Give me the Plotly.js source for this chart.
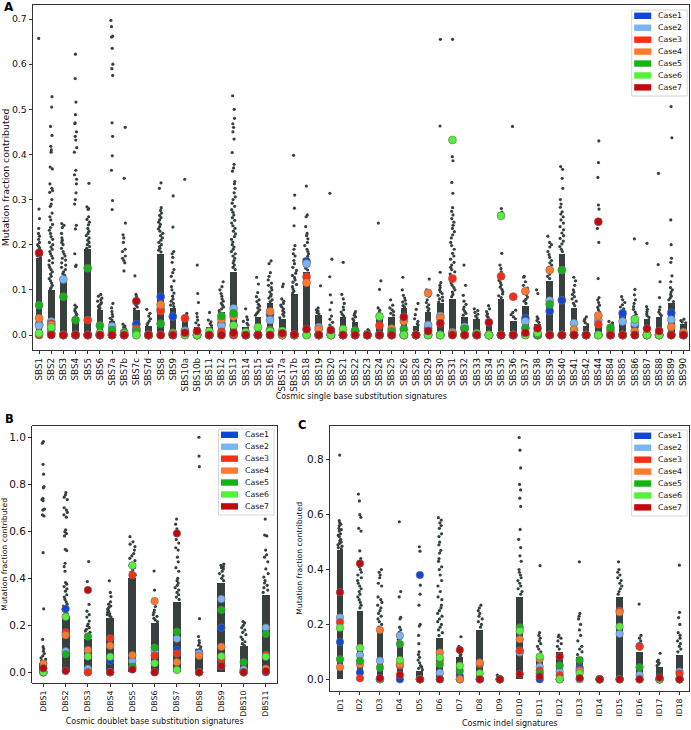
<!DOCTYPE html>
<html><head><meta charset="utf-8">
<script src="https://cdn.plot.ly/plotly-3.0.1.min.js"></script>
<style>html,body{margin:0;padding:0;background:#fff}#chart{width:691px;height:730px}</style>
</head><body><div id="chart"></div>
<script>
const caseNames = ['Case1','Case2','Case3','Case4','Case5','Case6','Case7'];
const caseColors = ['#0f46d8','#79b4f6','#ff2b12','#ff7a2c','#12b312','#55f03a','#c1080c'];

// ---------- Panel A: single base substitution signatures ----------
const sbsCategories = ['SBS1','SBS2','SBS3','SBS4','SBS5','SBS6','SBS7a','SBS7b','SBS7c','SBS7d','SBS8','SBS9','SBS10a','SBS10b','SBS11','SBS12','SBS13','SBS14','SBS15','SBS16','SBS17a','SBS17b','SBS18','SBS19','SBS20','SBS21','SBS22','SBS23','SBS24','SBS25','SBS26','SBS28','SBS29','SBS30','SBS31','SBS32','SBS33','SBS34','SBS35','SBS36','SBS37','SBS38','SBS39','SBS40','SBS41','SBS42','SBS44','SBS84','SBS85','SBS86','SBS87','SBS88','SBS89','SBS90'];
// dense (solid) part of each sample distribution
const sbsCore = [0.17,0.1,0.12,0.04,0.19,0.055,0.03,0.012,0.055,0.02,0.18,0.06,0.033,0.018,0.018,0.05,0.14,0.018,0.04,0.07,0.035,0.09,0.14,0.045,0.018,0.04,0.028,0.005,0.04,0.04,0.06,0.02,0.05,0.07,0.08,0.04,0.035,0.035,0.08,0.032,0.065,0.025,0.12,0.18,0.06,0.02,0.045,0.02,0.05,0.035,0.035,0.04,0.07,0.025];
// individual sample values above the dense part
const sbsSpread = [
 [0.657,0.279,0.258,0.236,0.225,0.219,0.212,0.205,0.2,0.197,0.193,0.19,0.187,0.184,0.181,0.178,0.175,0.172],
 [0.528,0.505,0.462,0.442,0.418,0.41,0.405,0.372,0.368,0.335,0.325,0.32,0.316,0.3,0.29,0.285,0.27,0.262,0.255,0.245,0.238,0.232,0.225,0.218,0.212,0.205,0.2,0.195,0.19,0.185,0.18,0.175,0.17,0.165,0.16,0.155,0.15,0.145,0.14,0.135,0.13,0.125,0.12,0.115,0.11,0.105,0.102],
 [0.247,0.243,0.238,0.225,0.215,0.21,0.205,0.2,0.192,0.185,0.18,0.175,0.17,0.166,0.16,0.155,0.15,0.145,0.14,0.136,0.132,0.128,0.124],
 [0.622,0.568,0.516,0.488,0.47,0.468,0.45,0.44,0.432,0.415,0.405,0.365,0.355,0.345,0.335,0.315,0.3,0.29,0.243,0.235,0.18,0.155,0.152,0.066,0.062,0.058,0.054,0.05,0.046,0.043],
 [0.336,0.284,0.28,0.278,0.262,0.256,0.25,0.244,0.236,0.23,0.225,0.22,0.215,0.21,0.205,0.2,0.196,0.192],
 [0.09,0.086,0.082,0.078,0.075,0.072,0.069,0.066,0.063,0.06,0.057],
 [0.697,0.683,0.662,0.66,0.635,0.6,0.59,0.575,0.47,0.44,0.397,0.365,0.298,0.278,0.07,0.06,0.052,0.046,0.041,0.037,0.033],
 [0.46,0.347,0.248,0.222,0.215,0.205,0.19,0.185,0.175,0.17,0.165,0.16,0.142,0.024,0.02,0.017,0.014],
 [0.131,0.09,0.085,0.08,0.075,0.07,0.066,0.062,0.058],
 [0.057,0.048,0.042,0.036,0.031,0.027,0.023],
 [0.337,0.325,0.282,0.276,0.27,0.265,0.26,0.255,0.25,0.245,0.24,0.235,0.23,0.225,0.22,0.215,0.21,0.205,0.2,0.196,0.192,0.188,0.184],
 [0.308,0.239,0.185,0.18,0.172,0.161,0.145,0.138,0.13,0.12,0.107,0.1,0.093,0.086,0.08,0.075,0.07,0.066,0.063],
 [0.345,0.048,0.044,0.04,0.037],
 [0.155,0.092,0.072,0.048,0.04,0.033,0.027,0.022],
 [0.05,0.033,0.029,0.025,0.021],
 [0.118,0.107,0.1,0.092,0.086,0.08,0.075,0.07,0.066,0.062,0.058,0.054],
 [0.53,0.5,0.48,0.468,0.46,0.45,0.434,0.404,0.378,0.37,0.363,0.34,0.335,0.325,0.315,0.306,0.3,0.292,0.285,0.278,0.272,0.266,0.26,0.254,0.248,0.242,0.236,0.23,0.224,0.218,0.212,0.206,0.2,0.195,0.19,0.185,0.18,0.175,0.17,0.165,0.16,0.155,0.15,0.145],
 [0.058,0.04,0.034,0.03,0.026,0.022],
 [0.128,0.113,0.094,0.085,0.078,0.074,0.068,0.064,0.06,0.056,0.052,0.048,0.044],
 [0.164,0.158,0.138,0.13,0.122,0.115,0.11,0.105,0.1,0.095,0.09,0.086,0.082,0.078,0.074],
 [0.113,0.107,0.08,0.075,0.07,0.066,0.062,0.058,0.054,0.05,0.046,0.042,0.038],
 [0.398,0.31,0.281,0.242,0.198,0.19,0.18,0.175,0.165,0.158,0.15,0.143,0.137,0.132,0.127,0.122,0.117,0.112,0.107,0.102,0.097,0.093],
 [0.33,0.266,0.262,0.24,0.225,0.22,0.213,0.205,0.198,0.19,0.185,0.18,0.174,0.168,0.163,0.158,0.153,0.148,0.144],
 [0.109,0.06,0.056,0.053,0.05,0.047],
 [0.314,0.168,0.129,0.089,0.072,0.056,0.042,0.035,0.028,0.022],
 [0.161,0.09,0.08,0.07,0.062,0.056,0.051,0.046,0.042],
 [0.052,0.048,0.044,0.04,0.036,0.032],
 [0.012,0.009,0.007],
 [0.248,0.12,0.101,0.06,0.055,0.05,0.046,0.043],
 [0.078,0.066,0.06,0.056,0.052,0.048,0.044],
 [0.128,0.1,0.088,0.082,0.077,0.073,0.069,0.065,0.062],
 [0.07,0.057,0.045,0.036,0.03,0.025,0.022],
 [0.124,0.1,0.086,0.078,0.072,0.067,0.062,0.058,0.054],
 [0.655,0.463,0.139,0.116,0.11,0.105,0.1,0.096,0.092,0.088,0.084,0.08,0.076,0.073],
 [0.655,0.395,0.386,0.338,0.314,0.282,0.274,0.266,0.258,0.25,0.243,0.236,0.229,0.222,0.215,0.205,0.198,0.19,0.181,0.175,0.168,0.161,0.155,0.15,0.145,0.14,0.135,0.13,0.125,0.12,0.115,0.11,0.105,0.1,0.095,0.09,0.085],
 [0.155,0.11,0.088,0.075,0.068,0.062,0.057,0.052,0.048,0.044],
 [0.058,0.054,0.05,0.046,0.042,0.038],
 [0.065,0.058,0.052,0.047,0.043,0.039],
 [0.28,0.272,0.181,0.155,0.147,0.14,0.133,0.127,0.121,0.116,0.111,0.106,0.101,0.096,0.091,0.087,0.083],
 [0.462,0.055,0.05,0.045,0.04,0.036],
 [0.13,0.128,0.118,0.11,0.104,0.099,0.094,0.089,0.084,0.079,0.075,0.07],
 [0.1,0.092,0.04,0.036,0.032,0.028],
 [0.219,0.205,0.2,0.195,0.185,0.178,0.172,0.165,0.16,0.155,0.15,0.145,0.14,0.135,0.13,0.125],
 [0.373,0.367,0.347,0.325,0.3,0.29,0.283,0.273,0.268,0.262,0.255,0.248,0.24,0.233,0.226,0.22,0.214,0.208,0.202,0.196,0.19,0.185],
 [0.128,0.12,0.11,0.1,0.095,0.09,0.085,0.08,0.075,0.07,0.065],
 [0.04,0.035,0.031,0.027,0.023],
 [0.43,0.382,0.349,0.288,0.279,0.236,0.205,0.125,0.083,0.078,0.072,0.066,0.061,0.056,0.051,0.048],
 [0.03,0.027,0.024,0.022],
 [0.085,0.078,0.072,0.067,0.062,0.058,0.054],
 [0.213,0.101,0.089,0.078,0.07,0.063,0.057,0.051,0.046,0.041,0.038],
 [0.203,0.063,0.057,0.052,0.047,0.043,0.039],
 [0.358,0.156,0.118,0.083,0.062,0.056,0.051,0.047,0.043],
 [0.506,0.437,0.255,0.2,0.17,0.161,0.131,0.118,0.105,0.1,0.095,0.09,0.086,0.082,0.078,0.074],
 [0.035,0.032,0.029,0.027]
];
const sbsCase1 = [0.024,0.004,0,0,0,0,0.005,0,0.024,0,0.085,0.041,0.01,0,0,0.025,0,0,0,0.045,0,0,0.163,0,0.005,0,0.008,0,0,0,0,0,0.015,0,0.003,0.015,0,0,0,0,0.037,0,0.053,0.077,0,0,0,0,0.048,0.02,0,0,0.049,0];
const sbsCase2 = [0.021,0.03,0.123,0,0,0,0.019,0,0,0,0.058,0,0.009,0,0,0.021,0.059,0,0,0.033,0,0,0.158,0.017,0,0,0,0,0,0,0,0,0.022,0.042,0.006,0.018,0,0,0,0,0.03,0,0.076,0,0.026,0,0.033,0,0.03,0.026,0,0,0.034,0];
const sbsCase3 = [0,0.025,0,0,0.033,0,0,0,0.014,0,0.053,0.005,0.037,0,0,0.007,0,0,0,0,0,0,0.129,0,0,0,0,0,0.021,0,0,0,0,0,0.125,0,0,0,0.13,0.085,0,0,0,0,0,0,0.024,0,0,0,0,0,0,0];
const sbsCase4 = [0.037,0.022,0,0,0,0,0,0,0.01,0,0.067,0.004,0,0,0,0.035,0.041,0,0,0.052,0,0,0.116,0.013,0,0,0,0,0,0.014,0.031,0,0.093,0.038,0.004,0,0,0,0,0,0.097,0,0.144,0,0.012,0,0.043,0.009,0,0.008,0,0,0.018,0.006];
const sbsCase5 = [0.066,0.013,0.085,0.033,0.148,0.021,0.011,0.006,0.008,0,0.025,0,0.002,0,0,0.042,0.048,0,0,0.011,0.005,0,0,0,0,0,0.01,0,0,0.008,0.013,0,0,0,0,0.014,0.004,0,0,0,0.015,0,0.068,0.144,0,0,0,0.016,0,0,0,0,0,0];
const sbsCase6 = [0.004,0.017,0,0,0,0.004,0,0.003,0,0,0,0.002,0,0,0.008,0,0.021,0.006,0.017,0.008,0.009,0,0,0,0,0.013,0,0,0.041,0,0,0,0,0,0.432,0,0.003,0,0.264,0,0,0.005,0,0,0,0,0,0,0,0.035,0,0,0,0];
const sbsCase7 = [0.182,0,0,0,0,0,0,0,0.075,0,0,0,0.005,0.009,0,0,0.005,0,0,0,0.004,0.001,0.013,0,0.011,0,0,0,0,0,0.04,0,0.009,0.026,0,0,0,0.028,0,0,0.005,0.015,0,0,0,0,0.251,0,0,0,0.014,0.009,0,0];

// ---------- Panel B: doublet base substitution signatures ----------
const dbsCategories = ['DBS1','DBS2','DBS3','DBS4','DBS5','DBS6','DBS7','DBS8','DBS9','DBS10','DBS11'];
const dbsCore = [0.04,0.24,0.14,0.23,0.4,0.21,0.3,0.08,0.38,0.11,0.33];
const dbsSpread = [
 [0.982,0.975,0.885,0.843,0.79,0.785,0.74,0.735,0.73,0.694,0.69,0.67,0.665,0.509,0.27,0.14,0.109,0.1,0.09,0.08,0.07,0.062,0.055,0.05,0.045],
 [0.765,0.755,0.745,0.735,0.7,0.69,0.68,0.67,0.66,0.606,0.598,0.59,0.58,0.523,0.518,0.464,0.45,0.43,0.382,0.375,0.365,0.355,0.345,0.33,0.32,0.31,0.3,0.29,0.282,0.275,0.268,0.262,0.256,0.25,0.245],
 [0.471,0.386,0.289,0.26,0.245,0.235,0.218,0.205,0.198,0.19,0.183,0.176,0.17,0.164,0.158,0.152,0.146],
 [0.389,0.34,0.322,0.3,0.29,0.282,0.276,0.27,0.265,0.26,0.255,0.25,0.245,0.24,0.235],
 [0.577,0.555,0.545,0.535,0.52,0.505,0.495,0.485,0.475,0.465,0.455,0.445,0.435,0.425,0.415,0.405],
 [0.431,0.35,0.3,0.28,0.265,0.255,0.245,0.238,0.23,0.223,0.216],
 [0.652,0.63,0.61,0.565,0.55,0.53,0.52,0.49,0.47,0.445,0.43,0.4,0.39,0.38,0.37,0.36,0.35,0.34,0.33,0.32,0.31],
 [1.0,0.92,0.875,0.228,0.152,0.135,0.125,0.115,0.108,0.1,0.095,0.09,0.085],
 [0.46,0.455,0.45,0.445,0.44,0.43,0.42,0.41,0.4,0.39],
 [0.216,0.21,0.2,0.19,0.18,0.17,0.16,0.15,0.14,0.13,0.122,0.115],
 [0.652,0.584,0.58,0.52,0.5,0.49,0.47,0.44,0.42,0.405,0.39,0.38,0.37,0.36,0.35,0.34]
];
const dbsCase1 = [0,0.27,0,0.048,0.02,0,0.095,0.085,0.19,0.008,0];
const dbsCase2 = [0,0.09,0.015,0,0.048,0.09,0.143,0.08,0.312,0.012,0.19];
const dbsCase3 = [0,0.17,0,0.145,0.414,0.071,0.08,0,0.055,0,0.074];
const dbsCase4 = [0.037,0.158,0.095,0.113,0.073,0.303,0.043,0.07,0.109,0,0.015];
const dbsCase5 = [0,0.077,0.152,0,0.024,0.105,0.173,0,0.265,0.043,0.163];
const dbsCase6 = [0,0.236,0.067,0.066,0.454,0.038,0.01,0,0.068,0,0.066];
const dbsCase7 = [0.017,0.006,0.35,0,0.012,0,0.591,0,0.027,0,0.005];

// ---------- Panel C: indel signatures ----------
const idCategories = ['ID1','ID2','ID3','ID4','ID5','ID6','ID7','ID8','ID9','ID10','ID11','ID12','ID13','ID14','ID15','ID16','ID17','ID18'];
const idCore = [0.47,0.25,0.18,0.14,0.03,0.15,0.08,0.18,0.004,0.3,0.09,0.1,0.08,0.003,0.3,0.1,0.045,0.09];
const idSpread = [
 [0.817,0.578,0.57,0.565,0.56,0.55,0.545,0.54,0.53,0.525,0.52,0.51,0.505,0.5,0.495,0.49,0.485,0.48,0.475],
 [0.675,0.65,0.6,0.59,0.55,0.54,0.468,0.44,0.43,0.41,0.4,0.39,0.38,0.37,0.36,0.35,0.34,0.33,0.32,0.31,0.3,0.29,0.28,0.27,0.26],
 [0.4,0.39,0.38,0.37,0.35,0.34,0.3,0.29,0.28,0.27,0.26,0.25,0.24,0.23,0.22,0.21,0.2,0.19],
 [0.574,0.32,0.3,0.226,0.22,0.19,0.18,0.17,0.16,0.155,0.15,0.145],
 [0.483,0.467,0.343,0.31,0.27,0.2,0.194,0.16,0.13,0.1,0.09,0.08,0.07,0.06,0.05,0.045,0.04,0.035],
 [0.589,0.58,0.57,0.56,0.55,0.53,0.52,0.5,0.49,0.47,0.46,0.44,0.43,0.41,0.4,0.38,0.36,0.34,0.32,0.3,0.29,0.27,0.26,0.25,0.24,0.23,0.22,0.21,0.2,0.19,0.18,0.17,0.16],
 [0.155,0.12,0.11,0.1,0.095,0.09,0.085],
 [0.27,0.26,0.25,0.24,0.23,0.22,0.21,0.2,0.19],
 [0.015,0.008],
 [0.881,0.835,0.77,0.71,0.69,0.66,0.63,0.546,0.51,0.48,0.45,0.43,0.4,0.39,0.38,0.37,0.36,0.35,0.34,0.33,0.32,0.31],
 [0.414,0.17,0.16,0.15,0.14,0.13,0.12,0.11,0.1],
 [0.161,0.155,0.15,0.14,0.13,0.12,0.11],
 [0.428,0.24,0.23,0.22,0.2,0.18,0.16,0.14,0.12,0.11,0.1,0.09],
 [0.005],
 [0.428,0.4,0.39,0.38,0.37,0.36,0.35,0.34,0.33,0.32,0.31],
 [0.274,0.16,0.15,0.14,0.13,0.12,0.11],
 [0.095,0.07,0.065,0.06,0.055,0.05],
 [0.416,0.244,0.225,0.2,0.17,0.16,0.15,0.14,0.13,0.12,0.11,0.1]
];
const idCase1 = [0.136,0.025,0,0,0.38,0,0.012,0,0,0.1,0,0,0.042,0,0,0.121,0,0];
const idCase2 = [0.225,0.088,0.068,0.159,0,0.024,0,0,0,0.098,0.046,0.028,0,0,0.166,0.016,0,0.028];
const idCase3 = [0.208,0.004,0,0.05,0,0.07,0,0.055,0,0.105,0.032,0.015,0.034,0,0.25,0.119,0,0.021];
const idCase4 = [0.044,0.055,0.18,0.055,0,0.098,0,0.061,0,0.146,0.074,0,0.03,0,0.244,0,0,0];
const idCase5 = [0.073,0.067,0.042,0.129,0,0.055,0.031,0,0,0.189,0.022,0.05,0.07,0,0,0.044,0,0];
const idCase6 = [0.188,0.115,0,0.07,0,0.079,0.049,0.022,0,0.176,0.083,0,0.022,0,0.192,0,0,0];
const idCase7 = [0.317,0.422,0.004,0.016,0,0,0.107,0,0,0.019,0.01,0.083,0.004,0,0,0,0.006,0];

// ---------- drawing ----------
const GREY = '#37403f';
const FONT = 'DejaVu Sans, sans-serif';
const W = 691, H = 730;
const px = v => v / W;
const py = v => 1 - v / H;

function panel(cats, core, spread, cases, xa, ya, barW, caseSize) {
  const tr = [];
  tr.push({type:'bar', x:cats, y:core, width:barW, xaxis:xa, yaxis:ya,
    marker:{color:GREY, line:{width:0}}, showlegend:false, hoverinfo:'skip'});
  const bx = [], by = [];
  cats.forEach((c, i) => spread[i].forEach(v => { bx.push(c); by.push(v); }));
  tr.push({type:'box', x:bx, y:by, xaxis:xa, yaxis:ya, boxpoints:'all', jitter:0.75, pointpos:0,
    width:barW, line:{width:0, color:'rgba(0,0,0,0)'}, fillcolor:'rgba(0,0,0,0)', whiskerwidth:0,
    marker:{size:3.2, color:GREY, line:{width:0}}, hoveron:'points', showlegend:false});
  cases.forEach((vals, k) => {
    tr.push({type:'scatter', mode:'markers', x:cats, y:vals, xaxis:xa, yaxis:ya, name:caseNames[k],
      marker:{size:caseSize, color:caseColors[k], line:{width:0.6, color:'#6e6e6e'}}, showlegend:false});
  });
  return tr;
}

const data = [].concat(
  panel(sbsCategories, sbsCore, sbsSpread, [sbsCase1,sbsCase2,sbsCase3,sbsCase4,sbsCase5,sbsCase6,sbsCase7], 'x', 'y', 0.54, 8),
  panel(dbsCategories, dbsCore, dbsSpread, [dbsCase1,dbsCase2,dbsCase3,dbsCase4,dbsCase5,dbsCase6,dbsCase7], 'x2', 'y2', 0.36, 7.5),
  panel(idCategories, idCore, idSpread, [idCase1,idCase2,idCase3,idCase4,idCase5,idCase6,idCase7], 'x3', 'y3', 0.34, 7.5)
);

function xAxis(cats, dom, anchor, title, tickSize, standoff) {
  return {domain:dom, anchor:anchor, type:'category', categoryorder:'array', categoryarray:cats,
    range:[-0.5, cats.length - 0.5], tickangle:-90, ticks:'outside', ticklen:3.5, tickwidth:0.8,
    tickcolor:'#000', showline:true, mirror:true, linecolor:'#000', linewidth:0.8, showgrid:false,
    zeroline:false, tickfont:{family:FONT, size:tickSize, color:'#111'},
    title:{text:title, font:{family:FONT, size:8, color:'#111'}, standoff:standoff}};
}
function yAxis(dom, anchor, range, dtick, tickSize, titleSize, standoff) {
  return {domain:dom, anchor:anchor, range:range, tick0:0, dtick:dtick, tickformat:'.1f',
    ticks:'outside', ticklen:3.5, tickwidth:0.8, tickcolor:'#000', showline:true, mirror:true,
    linecolor:'#000', linewidth:0.8, showgrid:false, zeroline:false,
    tickfont:{family:FONT, size:tickSize, color:'#111'},
    title:{text:'Mutation fraction contributed', font:{family:FONT, size:titleSize, color:'#111'}, standoff:standoff}};
}

const shapes = [], annotations = [];
function legend(left, top) {
  shapes.push({type:'rect', xref:'paper', yref:'paper', x0:px(left), x1:px(left+55.5), y0:py(top+86), y1:py(top),
    line:{color:'#cccccc', width:0.8}, fillcolor:'rgba(255,255,255,0.85)', layer:'above'});
  caseNames.forEach((n, k) => {
    const cy = top + 5.8 + 11.93 * k;
    shapes.push({type:'rect', xref:'paper', yref:'paper', x0:px(left+2.5), x1:px(left+19.5),
      y0:py(cy+3.2), y1:py(cy-3.2), line:{width:0}, fillcolor:caseColors[k], layer:'above'});
    annotations.push({xref:'paper', yref:'paper', x:px(left+24.5), y:py(cy), xanchor:'left', yanchor:'middle',
      text:n, showarrow:false, font:{family:FONT, size:7.8, color:'#111'}});
  });
}
legend(631.7, 10);
legend(218.5, 429);
legend(631.7, 430);

[['A', 1.5, -1.5, 12], ['B', 2.5, 410, 11.5], ['C', 295.5, 415.5, 11.5]].forEach(([t, x, y, s]) => {
  annotations.push({xref:'paper', yref:'paper', x:px(x), y:py(y), xanchor:'left', yanchor:'top',
    text:'<b>'+t+'</b>', showarrow:false, font:{family:FONT, size:s, color:'#000'}});
});

const layout = {
  width:W, height:H, margin:{l:0, r:0, t:0, b:0}, paper_bgcolor:'#fff', plot_bgcolor:'#fff',
  showlegend:false, boxmode:'overlay', bargap:0,
  xaxis: xAxis(sbsCategories, [px(33), px(689.5)], 'y', 'Cosmic single base substitution signatures', 8.8, 2),
  yaxis: yAxis([py(350), py(5)], 'x', [-0.0332, 0.731], 0.1, 9.4, 9.4, 3),
  xaxis2: xAxis(dbsCategories, [px(32.3), px(277)], 'y2', 'Cosmic doublet base substitution signatures', 7.9, 1),
  yaxis2: yAxis([py(683), py(425.5)], 'x2', [-0.0455, 1.05], 0.2, 10.5, 7.7, 3),
  xaxis3: xAxis(idCategories, [px(330), px(689.5)], 'y3', 'Cosmic indel signatures', 7.8, 4),
  yaxis3: yAxis([py(691), py(425.7)], 'x3', [-0.0426, 0.924], 0.2, 10.5, 7.7, 3),
  shapes: shapes, annotations: annotations
};

Plotly.newPlot('chart', data, layout, {staticPlot:true, displayModeBar:false});
</script>
</body></html>
